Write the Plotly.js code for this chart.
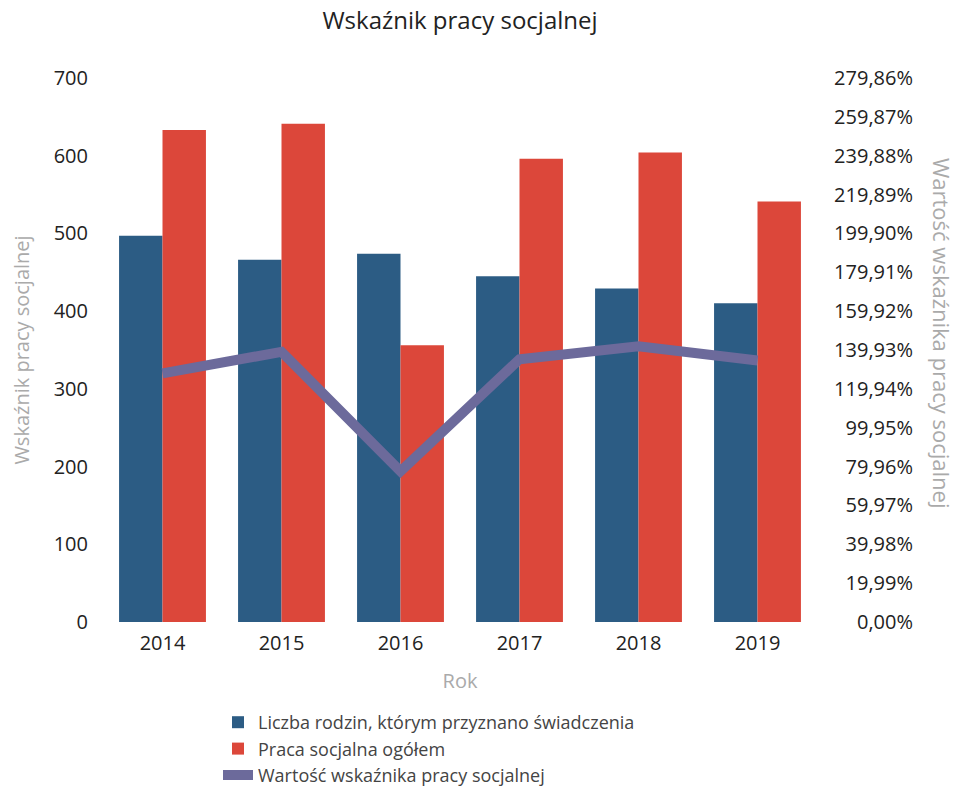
<!DOCTYPE html>
<html>
<head>
<meta charset="utf-8">
<script src="https://cdn.plot.ly/plotly-3.0.1.min.js"></script>
<style>html,body{margin:0;padding:0;background:#fff;}#chart{width:956px;height:788px;}</style>
</head>
<body>
<div id="chart"></div>
<script>
var years = ['2014', '2015', '2016', '2017', '2018', '2019'];
var rodziny = [497, 466, 474, 445, 429, 410];
var pracaSocjalna = [633, 641, 356, 596, 604, 541];
var wskaznik = [127.9, 139.0, 77.5, 135.2, 141.8, 134.5];
var rightTickVals = [0, 19.99, 39.98, 59.97, 79.96, 99.95, 119.94, 139.93, 159.92, 179.91, 199.90, 219.89, 239.88, 259.87, 279.86];
var rightTickText = ['0,00%', '19,99%', '39,98%', '59,97%', '79,96%', '99,95%', '119,94%', '139,93%', '159,92%', '179,91%', '199,90%', '219,89%', '239,88%', '259,87%', '279,86%'];

var seriesNames = [
  'Liczba rodzin, którym przyznano świadczenia',
  'Praca socjalna ogółem',
  'Wartość wskaźnika pracy socjalnej'
];

var W = 956, H = 788;
// visible value span: 0 at y=622, max at y=78; pad the axes so end labels fit
var y0px = 622, yMaxPx = 78, pad = 16;
var plotL = 103, plotR = 817, plotT = yMaxPx - pad, plotB = y0px + pad;
var marginR = 40;
var paperW = W - marginR - plotL;
var paperH = plotB - plotT;
var xDomEnd = (plotR - plotL) / paperW;
var leftMax = 700, rightMax = 279.86;
var leftPad = pad * leftMax / (y0px - yMaxPx);
var rightPad = pad * rightMax / (y0px - yMaxPx);

var traces = [
  {
    type: 'bar', name: seriesNames[0], x: years, y: rodziny,
    marker: {color: '#2c5c84'}, hoverinfo: 'x+y'
  },
  {
    type: 'bar', name: seriesNames[1], x: years, y: pracaSocjalna,
    marker: {color: '#dc473a'}, hoverinfo: 'x+y'
  },
  {
    type: 'scatter', mode: 'lines', name: seriesNames[2], x: years, y: wskaznik,
    yaxis: 'y2', line: {color: '#6c6a9b', width: 10}, hoverinfo: 'x+y'
  }
];

var layout = {
  width: W, height: H,
  margin: {l: plotL, r: marginR, t: plotT, b: H - plotB, autoexpand: false},
  paper_bgcolor: '#fff', plot_bgcolor: '#fff',
  font: {family: '"Open Sans", "Noto Sans", sans-serif', color: '#222', size: 20},
  title: {
    text: 'Wskaźnik pracy socjalnej',
    font: {size: 24, color: '#222'},
    xref: 'paper', x: (460 - plotL) / paperW, xanchor: 'center',
    yref: 'container', y: 1 - 21 / H, yanchor: 'middle'
  },
  barmode: 'group', bargap: 0.27, bargroupgap: 0,
  showlegend: true,
  legend: {
    orientation: 'v', traceorder: 'normal',
    x: (218 - plotL) / paperW, xanchor: 'left',
    y: (plotB - 704) / paperH, yanchor: 'top',
    font: {size: 18, color: '#444'},
    bgcolor: 'rgba(0,0,0,0)', itemwidth: 30, tracegroupgap: 0
  },
  xaxis: {
    domain: [0, xDomEnd], type: 'category',
    showgrid: false, zeroline: false, showline: false,
    ticks: '', ticklabelstandoff: -9,
    tickfont: {size: 20, color: '#222'},
    title: {text: 'Rok', font: {size: 20, color: '#aaa'}, standoff: 18}
  },
  yaxis: {
    range: [-leftPad, leftMax + leftPad], dtick: 100, tick0: 0,
    showgrid: false, zeroline: false, showline: false, ticks: '',
    ticklabelstandoff: 14,
    tickfont: {size: 20, color: '#222'},
    title: {text: 'Wskaźnik pracy socjalnej', font: {size: 20, color: '#aaa'}, standoff: 18}
  },
  yaxis2: {
    overlaying: 'y', side: 'right', anchor: 'free', position: 1,
    range: [-rightPad, rightMax + rightPad],
    tickmode: 'array', tickvals: rightTickVals, ticktext: rightTickText,
    ticklabelposition: 'inside',
    showgrid: false, zeroline: false, showline: false, ticks: '',
    tickfont: {size: 20, color: '#222'}
  },
  annotations: [
    {
      text: 'Wartość wskaźnika pracy socjalnej',
      xref: 'paper', yref: 'paper',
      x: (942 - plotL) / paperW, y: (plotB - 333) / paperH,
      xanchor: 'center', yanchor: 'middle',
      textangle: 90, showarrow: false,
      font: {size: 22, color: '#aaa'}
    }
  ]
};

Plotly.newPlot('chart', traces, layout, {displayModeBar: false, responsive: false});
</script>
</body>
</html>
